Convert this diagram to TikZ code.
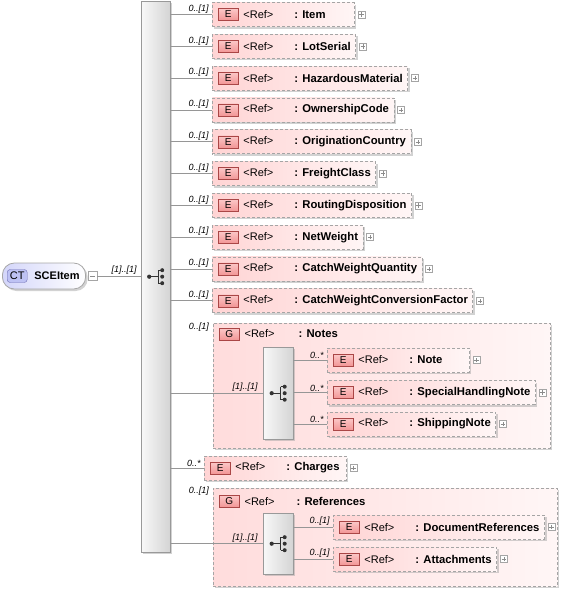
\documentclass[tikz,border=0pt]{standalone}
\usepackage{fontspec}
\setmainfont{Liberation Sans}
\usetikzlibrary{positioning,shadows,calc}

\definecolor{elemleft}{RGB}{255,212,212}
\definecolor{elemright}{RGB}{255,246,246}
\definecolor{grpleft}{RGB}{255,220,220}
\definecolor{grpright}{RGB}{255,246,246}
\definecolor{badgefill}{RGB}{242,150,150}
\definecolor{badgetop}{RGB}{252,200,200}
\definecolor{badgeline}{RGB}{170,70,70}
\definecolor{boxline}{RGB}{165,165,165}
\definecolor{wire}{RGB}{150,150,150}
\definecolor{ctfill}{RGB}{190,194,244}
\definecolor{ctline}{RGB}{110,110,180}
\definecolor{rootleft}{RGB}{212,214,250}
\definecolor{seqleft}{RGB}{248,248,248}
\definecolor{seqright}{RGB}{212,212,212}

\newsavebox\namebox
\newcommand\namefont{\fontsize{11.3}{13}\selectfont\bfseries}
\newcommand\reftext[1]{\sbox\namebox{\hspace*{26pt}\makebox[51pt][l]{<Ref>}{\namefont: #1}}%
   \ifdim\wd\namebox<132pt\makebox[132pt][l]{\usebox\namebox}\else\usebox\namebox\fi}

\tikzstyle{boxshadow} = [drop shadow={shadow xshift=2pt, shadow yshift=-2pt, %
   fill=black!35, opacity=0.5}]
\tikzstyle{ebadge} = [draw=badgeline, top color=badgetop, bottom color=badgefill, %
   minimum width=20pt, minimum height=12pt, inner sep=0pt, font=\fontsize{10}{12}\selectfont]
\tikzstyle{expander} = [draw=boxline, fill=white, minimum size=7pt, inner sep=0pt, %
   path picture={\draw[black!45] ([xshift=-2.2pt]path picture bounding box.center) -- ([xshift=2.2pt]path picture bounding box.center) ([yshift=-2.2pt]path picture bounding box.center) -- ([yshift=2.2pt]path picture bounding box.center);}]
\tikzstyle{collapser} = [draw=boxline, fill=white, minimum size=9pt, inner sep=0pt, %
   path picture={\draw[black!45] ([xshift=-2.5pt]path picture bounding box.center) -- ([xshift=2.5pt]path picture bounding box.center);}]
\tikzstyle{elem} = [draw=boxline, line width=0.8pt, dash pattern=on 3pt off 2pt, %
   left color=elemleft, right color=elemright, boxshadow, anchor=west, %
   minimum height=24pt, inner xsep=5pt, inner ysep=0pt, %
   label={[ebadge, anchor=west, xshift=6pt]west:E}, %
   label={[expander, anchor=west, xshift=3pt]east:{}}]
\tikzstyle{grp} = [draw=boxline, line width=0.8pt, dash pattern=on 3pt off 2pt, %
   left color=grpleft, right color=grpright, boxshadow, anchor=north west, inner sep=0pt]
\tikzstyle{seqbox} = [draw=black!40, left color=seqleft, right color=seqright, %
   boxshadow, anchor=north west, inner sep=0pt]
\tikzstyle{ctnode} = [draw=black!35, line width=0.8pt, rounded corners=12pt, %
   left color=rootleft, right color=white, boxshadow, anchor=west, %
   minimum height=26pt, inner xsep=6pt, %
   label={[draw=ctline, fill=ctfill, rounded corners=3pt, minimum width=20pt, %
      minimum height=13pt, inner sep=0pt, anchor=west, xshift=5pt]west:CT}]
\tikzstyle{mult} = [font=\fontsize{9}{10}\selectfont\itshape, inner sep=1pt]
\tikzstyle{conn} = [draw=wire, line width=0.8pt]

\tikzset{seqsym/.pic={
   \fill[black!80] (-6.5,0) circle (2.1pt);
   \draw[black!80, line width=1pt] (-6.5,0) -- (2.5,0) (2.5,-6.5) -- (2.5,6.5) (2.5,-6.5) -- (6.5,-6.5) (2.5,6.5) -- (6.5,6.5);
   \fill[black!80] (6.5,-6.5) circle (2pt) (6.5,0) circle (2pt) (6.5,6.5) circle (2pt);
}}

\begin{document}
\begin{tikzpicture}[x=1pt, y=-1pt, font=\fontsize{11}{13}\selectfont]
   \useasboundingbox (0,0) rectangle (566,590);

   % Place nodes
   \node[ctnode] (root) at (2,276) {\hspace*{26pt}\textbf{SCEItem}};
   \node[collapser, right=2pt of root] (rootc) {};
   \node[seqbox, minimum width=29pt, minimum height=551pt] (seq) at (141,1) {};
   \pic at (seq.center) {seqsym};

   % ELEMENTS %%%%%%%%%%%%%%%%%%%%%%%%%%%%%%%%%%%%%%%%%%%%%%%%%%%%%%%
   \node[elem] (item) at (212,14.5) {\reftext{Item}};
   \node[elem] (lotserial) at (212,46.3) {\reftext{LotSerial}};
   \node[elem] (hazmat) at (212,78.1) {\reftext{HazardousMaterial}};
   \node[elem] (owncode) at (212,109.9) {\reftext{OwnershipCode}};
   \node[elem] (origin) at (212,141.7) {\reftext{OriginationCountry}};
   \node[elem] (freight) at (212,173.5) {\reftext{FreightClass}};
   \node[elem] (routing) at (212,205.3) {\reftext{RoutingDisposition}};
   \node[elem] (netweight) at (212,237.1) {\reftext{NetWeight}};
   \node[elem] (cwquantity) at (212,268.9) {\reftext{CatchWeightQuantity}};
   \node[elem] (cwfactor) at (212,300.7) {\reftext{CatchWeightConversionFactor}};

   % NOTES GROUP %%%%%%%%%%%%%%%%%%%%%%%%%%%%%%%%%%%%%%%%%%%%%%%%%%%%
   \node[grp, minimum width=337pt, minimum height=125pt] (notes) at (213,323) {};
   \node[ebadge, anchor=west] (notesg) at ([xshift=6pt, yshift=-11pt]notes.north west) {G};
   \node[anchor=west, inner sep=0pt] (notest) at ([xshift=5pt]notesg.east) {%
      \makebox[54pt][l]{<Ref>}{\namefont: Notes}};
   \node[mult, anchor=south east] (notesm) at ([xshift=-3pt, yshift=-10pt]notes.north west) {0..[1]};
   \node[seqbox, minimum width=30pt, minimum height=92pt] (nseq) at (263,347) {};
   \pic at (nseq.center) {seqsym};
   \node[elem] (note) at (327,360) {\reftext{Note}};
   \node[elem] (shnote) at (327,392.5) {\reftext{SpecialHandlingNote}};
   \node[elem] (shipnote) at (327,424) {\reftext{ShippingNote}};

   \node[elem] (charges) at (204,468) {\reftext{Charges}};

   % REFERENCES GROUP %%%%%%%%%%%%%%%%%%%%%%%%%%%%%%%%%%%%%%%%%%%%%%%
   \node[grp, minimum width=344pt, minimum height=98pt] (refs) at (213,488) {};
   \node[ebadge, anchor=west] (refsg) at ([xshift=6pt, yshift=-13pt]refs.north west) {G};
   \node[anchor=west, inner sep=0pt] (refst) at ([xshift=5pt]refsg.east) {%
      \makebox[52pt][l]{<Ref>}{\namefont: References}};
   \node[mult, anchor=south east] (refsm) at ([xshift=-3pt, yshift=-9pt]refs.north west) {0..[1]};
   \node[seqbox, minimum width=30pt, minimum height=61pt] (rseq) at (263,513) {};
   \pic at (rseq.center) {seqsym};
   \node[elem] (docrefs) at (333,527) {\reftext{DocumentReferences}};
   \node[elem] (attach) at (333,559) {\reftext{Attachments}};

   % Draw edges
   \draw[conn] (rootc) -- (rootc -| seq.west) node[mult, pos=1, anchor=south east, xshift=-3pt] {[1]..[1]};
   \draw[conn] (seq.east |- item.west) -- (item.west) node[mult, pos=1, anchor=south east, xshift=-2pt] {0..[1]};
   \draw[conn] (seq.east |- lotserial.west) -- (lotserial.west) node[mult, pos=1, anchor=south east, xshift=-2pt] {0..[1]};
   \draw[conn] (seq.east |- hazmat.west) -- (hazmat.west) node[mult, pos=1, anchor=south east, xshift=-2pt] {0..[1]};
   \draw[conn] (seq.east |- owncode.west) -- (owncode.west) node[mult, pos=1, anchor=south east, xshift=-2pt] {0..[1]};
   \draw[conn] (seq.east |- origin.west) -- (origin.west) node[mult, pos=1, anchor=south east, xshift=-2pt] {0..[1]};
   \draw[conn] (seq.east |- freight.west) -- (freight.west) node[mult, pos=1, anchor=south east, xshift=-2pt] {0..[1]};
   \draw[conn] (seq.east |- routing.west) -- (routing.west) node[mult, pos=1, anchor=south east, xshift=-2pt] {0..[1]};
   \draw[conn] (seq.east |- netweight.west) -- (netweight.west) node[mult, pos=1, anchor=south east, xshift=-2pt] {0..[1]};
   \draw[conn] (seq.east |- cwquantity.west) -- (cwquantity.west) node[mult, pos=1, anchor=south east, xshift=-2pt] {0..[1]};
   \draw[conn] (seq.east |- cwfactor.west) -- (cwfactor.west) node[mult, pos=1, anchor=south east, xshift=-2pt] {0..[1]};
   % groups
   \draw[conn] (seq.east |- nseq.west) -- (nseq.west) node[mult, pos=1, anchor=south east, xshift=-4pt] {[1]..[1]};
   \draw[conn] (nseq.east |- note.west) -- (note.west) node[mult, pos=1, anchor=south east, xshift=-2pt] {0..*};
   \draw[conn] (nseq.east |- shnote.west) -- (shnote.west) node[mult, pos=1, anchor=south east, xshift=-2pt] {0..*};
   \draw[conn] (nseq.east |- shipnote.west) -- (shipnote.west) node[mult, pos=1, anchor=south east, xshift=-2pt] {0..*};
   \draw[conn] (seq.east |- charges.west) -- (charges.west) node[mult, pos=1, anchor=south east, xshift=-2pt] {0..*};
   \draw[conn] (seq.east |- rseq.west) -- (rseq.west) node[mult, pos=1, anchor=south east, xshift=-4pt] {[1]..[1]};
   \draw[conn] (rseq.east |- docrefs.west) -- (docrefs.west) node[mult, pos=1, anchor=south east, xshift=-2pt] {0..[1]};
   \draw[conn] (rseq.east |- attach.west) -- (attach.west) node[mult, pos=1, anchor=south east, xshift=-2pt] {0..[1]};

\end{tikzpicture}
\end{document}
